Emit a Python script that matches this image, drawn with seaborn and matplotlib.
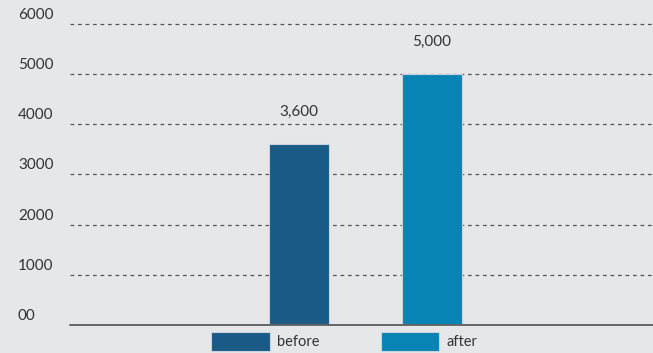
import pandas as pd
import matplotlib
matplotlib.use("Agg")
import matplotlib.pyplot as plt
import matplotlib.transforms as mtransforms
from matplotlib.patches import Patch
import seaborn as sns

categories = ["before", "after"]
values = [3600, 5000]
colors = ["#1a5a87", "#0783b6"]
ytick_values = [0, 1000, 2000, 3000, 4000, 5000, 6000]
ytick_labels = ["00", "1000", "2000", "3000", "4000", "5000", "6000"]

bg = "#e6e7e9"
sns.set_style("white")
plt.rcParams["font.family"] = ["Lato", "DejaVu Sans"]

data = pd.DataFrame({"period": categories, "value": values})

fig = plt.figure(figsize=(6.53, 3.53), dpi=100, facecolor=bg)
ax = fig.add_axes([70 / 653, 28 / 353, 583 / 653, 325 / 353])
ax.set_facecolor(bg)

sns.barplot(data=data, x="period", y="value", hue="period",
            palette=colors, saturation=1, width=0.45, legend=False, ax=ax,
            edgecolor="#c9d3dc", linewidth=0.8, zorder=3)

ax.set_xlim(-1.72, 2.66)
ax.set_ylim(0, 6475)
for s in ax.spines.values():
    s.set_visible(False)
ax.set_xticks([])
ax.set_xlabel("")
ax.set_ylabel("")
ax.set_yticks([])

# dashed gridlines and solid baseline
for v in ytick_values[1:]:
    ax.axhline(v, color="#555555", linestyle=(0, (3, 3)), linewidth=0.9, zorder=1)
ax.axhline(0, color="#666666", linewidth=1.4, zorder=4, clip_on=False)

# tick labels sit above the gridlines
tr = mtransforms.offset_copy(ax.get_yaxis_transform(), fig=fig, x=0, y=9, units="dots")
for v, lab in zip(ytick_values, ytick_labels):
    ax.text(-52 / 583, v, lab, transform=tr, ha="left", va="center",
            fontsize=11, color="#333333")

for c in ax.containers:
    ax.bar_label(c, labels=[f"{int(v):,}" for v in c.datavalues], padding=18,
                 fontsize=11, color="#333333")

handles = [Patch(facecolor=col, edgecolor="#c9d3dc", linewidth=0.8) for col in colors]
fig.legend(handles, categories, loc="upper left",
           bbox_to_anchor=(204 / 653, 1 - 325 / 353), ncol=2, frameon=False,
           fontsize=10.5, handlelength=4.0, handleheight=1.55,
           handletextpad=0.5, columnspacing=4.2, borderpad=0,
           labelcolor="#333333")

fig.savefig("out.png", dpi=100, facecolor=bg)
